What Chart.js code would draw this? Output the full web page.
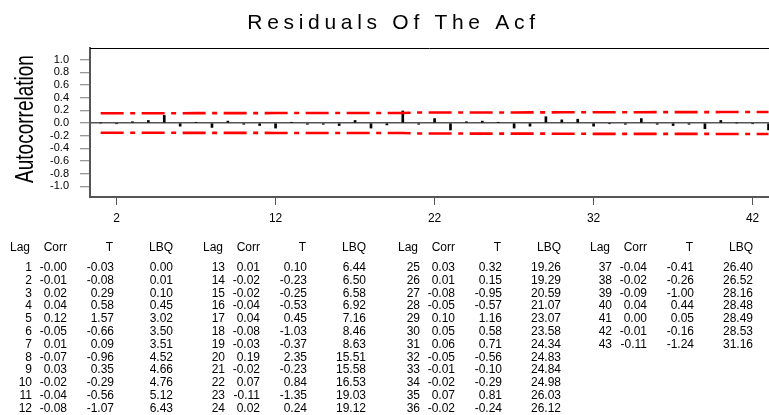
<!DOCTYPE html>
<html>
<head>
<meta charset="utf-8">
<title>Residuals Of The Acf</title>
<script src="https://cdn.jsdelivr.net/npm/chart.js@4/dist/chart.umd.min.js"></script>
<style>
  html, body { margin: 0; padding: 0; background: #fff; overflow: hidden; }
  #wrap { position: relative; width: 769px; height: 415px; }
</style>
</head>
<body>
<div id="wrap"><canvas id="acf" width="769" height="415"></canvas></div>
<script>
// ---- data ----
const lags = [1,2,3,4,5,6,7,8,9,10,11,12,13,14,15,16,17,18,19,20,21,22,23,24,25,26,27,28,29,30,31,32,33,34,35,36,37,38,39,40,41,42,43];
const corr = [-0.00,-0.01,0.02,0.04,0.12,-0.05,0.01,-0.07,0.03,-0.02,-0.04,-0.08,
              0.01,-0.02,-0.02,-0.04,0.04,-0.08,-0.03,0.19,-0.02,0.07,-0.11,0.02,
              0.03,0.01,-0.08,-0.05,0.10,0.05,0.06,-0.05,-0.01,-0.02,0.07,-0.02,
              -0.04,-0.02,-0.09,0.04,0.00,-0.01,-0.11];
const tStat = [-0.03,-0.08,0.29,0.58,1.57,-0.66,0.09,-0.96,0.35,-0.29,-0.56,-1.07,
               0.10,-0.23,-0.25,-0.53,0.45,-1.03,-0.37,2.35,-0.23,0.84,-1.35,0.24,
               0.32,0.15,-0.95,-0.57,1.16,0.58,0.71,-0.56,-0.10,-0.29,0.81,-0.24,
               -0.41,-0.26,-1.00,0.44,0.05,-0.16,-1.24];
const lbq = [0.00,0.01,0.10,0.45,3.02,3.50,3.51,4.52,4.66,4.76,5.12,6.43,
             6.44,6.50,6.58,6.92,7.16,8.46,8.63,15.51,15.58,16.53,19.03,19.12,
             19.26,19.29,20.59,21.07,23.07,23.58,24.34,24.83,24.84,24.98,26.03,26.12,
             26.40,26.52,28.16,28.48,28.49,28.53,31.16];
// significance limits (upper; lower is the mirror)
const upperLimit = [0.153,0.153,0.153,0.153,0.153,0.155,0.156,0.156,0.156,0.156,0.156,0.157,
                    0.158,0.158,0.158,0.158,0.158,0.158,0.159,0.159,0.165,0.165,0.165,0.167,
                    0.167,0.167,0.167,0.168,0.168,0.170,0.170,0.171,0.171,0.171,0.171,0.172,
                    0.172,0.172,0.172,0.173,0.173,0.173,0.173];
const lowerLimit = [-0.153,-0.153,-0.153,-0.153,-0.153,-0.155,-0.156,-0.156,-0.156,-0.156,-0.156,-0.157,
                    -0.158,-0.158,-0.158,-0.158,-0.158,-0.158,-0.159,-0.159,-0.165,-0.165,-0.165,-0.167,
                    -0.167,-0.167,-0.167,-0.168,-0.168,-0.170,-0.170,-0.171,-0.171,-0.171,-0.171,-0.172,
                    -0.172,-0.172,-0.172,-0.173,-0.173,-0.173,-0.173];
const xTickValues = [2, 12, 22, 32, 42];
const yTickValues = [-1.0,-0.8,-0.6,-0.4,-0.2,0.0,0.2,0.4,0.6,0.8,1.0];
const chartTitle = 'Residuals Of The Acf';
const yAxisTitle = 'Autocorrelation';
const tableHeaders = ['Lag', 'Corr', 'T', 'LBQ'];

// ---- styling ----
const FONT = '"Liberation Sans", Arial, Helvetica, sans-serif';
const AXIS_GRAY = '#555555';

function fmt2(v) {
  return (Object.is(v, -0) ? '-' : '') + v.toFixed(2);
}

// title, frame top, rotated axis title and the statistics table
const decorations = {
  id: 'decorations',
  afterDraw(chart) {
    const { ctx, chartArea: a } = chart;
    ctx.save();

    // top edge of the plot frame
    ctx.strokeStyle = '#000';
    ctx.lineWidth = 1;
    ctx.beginPath();
    ctx.moveTo(a.left, a.top + 0.5);
    ctx.lineTo(a.right, a.top + 0.5);
    ctx.stroke();

    // main title
    ctx.fillStyle = '#000';
    ctx.font = '21px ' + FONT;
    ctx.letterSpacing = '4.7px';
    ctx.textAlign = 'center';
    ctx.textBaseline = 'alphabetic';
    ctx.fillText(chartTitle, 393.5, 28.5);
    ctx.letterSpacing = '0px';

    // y axis title, tall and narrow
    ctx.save();
    ctx.translate(33, 119);
    ctx.rotate(-Math.PI / 2);
    ctx.scale(0.76, 1);
    ctx.font = '25px ' + FONT;
    ctx.textAlign = 'center';
    ctx.textBaseline = 'alphabetic';
    ctx.fillText(yAxisTitle, 0, 0);
    ctx.restore();

    // statistics table: four blocks of lag / corr / T / LBQ
    const blockX = [0, 193, 388, 580];
    const colRight = [32, 67, 114, 173];
    const rowsPerBlock = 12;
    const headerY = 248;
    const firstRowY = 267.7;
    const rowStep = 12.8;
    ctx.font = '12px ' + FONT;
    ctx.textAlign = 'right';
    ctx.textBaseline = 'middle';
    for (let b = 0; b < blockX.length; b++) {
      const x0 = blockX[b];
      ctx.fillText(tableHeaders[0], x0 + colRight[0] - 2, headerY);
      ctx.fillText(tableHeaders[1], x0 + colRight[1], headerY);
      ctx.fillText(tableHeaders[2], x0 + colRight[2] - 1, headerY);
      ctx.fillText(tableHeaders[3], x0 + colRight[3], headerY);
      for (let r = 0; r < rowsPerBlock; r++) {
        const i = b * rowsPerBlock + r;
        if (i >= lags.length) break;
        const y = firstRowY + r * rowStep;
        ctx.fillText(String(lags[i]), x0 + colRight[0], y);
        ctx.fillText(fmt2(corr[i]), x0 + colRight[1], y);
        ctx.fillText(fmt2(tStat[i]), x0 + colRight[2], y);
        ctx.fillText(fmt2(lbq[i]), x0 + colRight[3], y);
      }
    }
    ctx.restore();
  }
};

const limitStyle = {
  type: 'line',
  borderColor: '#ff0000',
  borderWidth: 2.6,
  borderDash: [23, 6.5, 5, 6.5],
  pointRadius: 0,
  fill: false,
  tension: 0,
  borderCapStyle: 'butt'
};

new Chart(document.getElementById('acf'), {
  type: 'bar',
  data: {
    datasets: [
      {
        type: 'bar',
        data: lags.map((l, i) => ({ x: l, y: corr[i] })),
        backgroundColor: '#000',
        borderWidth: 0,
        barThickness: 2,
        order: 2
      },
      Object.assign({ data: lags.map((l, i) => ({ x: l, y: upperLimit[i] })), order: 1 }, limitStyle),
      Object.assign({ data: lags.map((l, i) => ({ x: l, y: lowerLimit[i] })), order: 1 }, limitStyle)
    ]
  },
  options: {
    responsive: false,
    animation: false,
    devicePixelRatio: 1,
    layout: { padding: { left: 0, right: 0, top: 48, bottom: 188 } },
    plugins: {
      legend: { display: false },
      tooltip: { enabled: false },
      title: { display: false }
    },
    scales: {
      x: {
        type: 'linear',
        min: 0.33,
        max: 43.03,
        offset: false,
        afterBuildTicks: s => { s.ticks = xTickValues.map(v => ({ value: v })); },
        afterFit: s => { s.height = 30; },
        grid: { offset: false, drawOnChartArea: false, tickLength: 8, tickColor: AXIS_GRAY, tickWidth: 1 },
        border: { color: AXIS_GRAY, width: 2 },
        ticks: {
          color: '#000',
          font: { family: FONT, size: 12 },
          padding: 6,
          maxRotation: 0,
          autoSkip: false,
          callback: v => String(v)
        }
      },
      y: {
        min: -1.169,
        max: 1.185,
        afterBuildTicks: s => { s.ticks = yTickValues.map(v => ({ value: v })); },
        afterFit: s => { s.width = 90; },
        grid: {
          drawOnChartArea: true,
          color: c => (c.tick && Math.abs(c.tick.value) < 1e-9) ? AXIS_GRAY : 'rgba(0,0,0,0)',
          lineWidth: 1.5,
          tickLength: 10,
          tickColor: '#777',
          tickWidth: 1
        },
        border: { color: AXIS_GRAY, width: 2 },
        ticks: {
          color: '#000',
          font: { family: FONT, size: 11 },
          padding: 11,
          autoSkip: false,
          callback: v => (Math.abs(v) < 1e-9 ? 0 : v).toFixed(1)
        }
      }
    }
  },
  plugins: [decorations]
});
</script>
</body>
</html>
